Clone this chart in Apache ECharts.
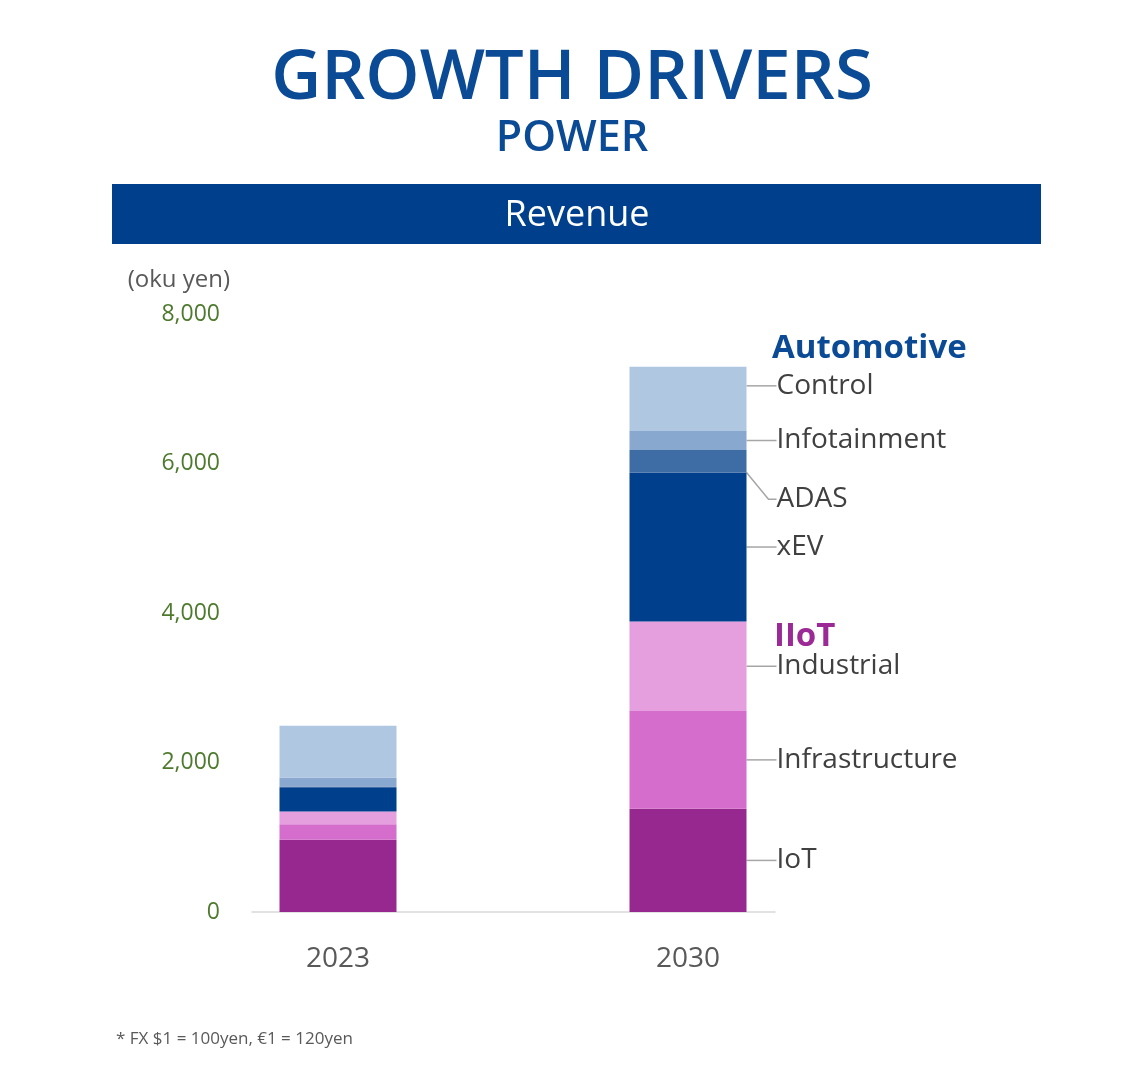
<!DOCTYPE html>
<html>
<head>
<meta charset="utf-8">
<script src="https://cdn.jsdelivr.net/npm/echarts@6/dist/echarts.min.js"></script>
<style>
html,body{margin:0;padding:0;background:#fff;}
#chart{width:1144px;height:1070px;}
</style>
</head>
<body>
<div id="chart"></div>
<script>
// ---- data ----
const categories = ['2023', '2030'];
const segmentNames = ['IoT', 'Infrastructure', 'Industrial', 'xEV', 'ADAS', 'Infotainment', 'Control'];
const iotValues = [965, 1380];
const infrastructureValues = [210, 1310];
const industrialValues = [170, 1195];
const xevValues = [315, 1995];
const adasValues = [20, 300];
const infotainmentValues = [120, 255];
const controlValues = [690, 860];
const yTickValues = [0, 2000, 4000, 6000, 8000];
const groupHeadings = ['Automotive', 'IIoT'];

// ---- styling ----
const FONT = "'Open Sans', 'Noto Sans', sans-serif";
const colors = ['#97288F', '#D46DCB', '#E59EDE', '#003F8C', '#3E6DA6', '#88A8D0', '#B0C7E2'];
const valueLists = [iotValues, infrastructureValues, industrialValues, xevValues, adasValues, infotainmentValues, controlValues];
const labelShift = { 'Control': -13, 'ADAS': 38 };

const chart = echarts.init(document.getElementById('chart'));

const series = segmentNames.map((name, i) => ({
  name: name,
  type: 'bar',
  stack: 'total',
  xAxisIndex: 0,
  yAxisIndex: 0,
  barWidth: 117,
  itemStyle: { color: colors[i] },
  emphasis: { disabled: true },
  labelLine: { show: true, length2: 8, lineStyle: { color: '#A6A6A6', width: 1.5 } },
  labelLayout: { dy: labelShift[name] || 0 },
  data: valueLists[i].map((v, j) => j === categories.length - 1 ? {
    value: v,
    label: {
      show: true, position: 'right', distance: 30,
      formatter: name, color: '#404040', fontSize: 28, fontFamily: FONT
    }
  } : v)
}));

const option = {
  backgroundColor: '#ffffff',
  animation: false,
  title: [
    { text: 'GROWTH DRIVERS', left: 'center', top: 40,
      textStyle: { color: '#0B4A94', fontSize: 69, fontWeight: 600, fontFamily: FONT } },
    { text: 'POWER', left: 'center', top: 112,
      textStyle: { color: '#0B4A94', fontSize: 43, fontWeight: 600, fontFamily: FONT } },
    { text: '* FX $1 = 100yen, €1 = 120yen', left: 111, top: 1026,
      textStyle: { color: '#595959', fontSize: 17, fontWeight: 'normal', fontFamily: FONT } }
  ],
  graphic: [
    { type: 'rect', shape: { x: 112, y: 184, width: 929, height: 60 }, style: { fill: '#003F8C' }, z: 0 },
    { type: 'text', x: 577, y: 216, style: { text: 'Revenue', fill: '#ffffff', fontSize: 36, fontFamily: FONT, align: 'center', verticalAlign: 'middle' } },
    { type: 'text', x: 772, y: 349, style: { text: groupHeadings[0], fill: '#0B4A94', fontSize: 33, fontWeight: 'bold', fontFamily: FONT, align: 'left', verticalAlign: 'middle' } },
    { type: 'text', x: 774, y: 637, style: { text: groupHeadings[1], fill: '#9B2A96', fontSize: 33, fontWeight: 'bold', fontFamily: FONT, align: 'left', verticalAlign: 'middle' } }
  ],
  grid: [
    { left: 163, right: 281, top: 314, bottom: 158 },
    { left: 252, right: 369, top: 314, bottom: 158 }
  ],
  xAxis: [
    { type: 'category', gridIndex: 0, data: categories, boundaryGap: true,
      axisLine: { show: false }, axisTick: { show: false },
      axisLabel: { color: '#595959', fontSize: 28, fontFamily: FONT, margin: 33 } },
    { type: 'value', gridIndex: 1, min: 0, max: 1,
      axisLine: { show: true, lineStyle: { color: '#D9D9D9', width: 1.5 } },
      axisTick: { show: false }, axisLabel: { show: false }, splitLine: { show: false } }
  ],
  yAxis: [
    { type: 'value', gridIndex: 0, min: 0, max: 8000, interval: 2000, show: false, splitLine: { show: false } },
    { type: 'value', gridIndex: 1, min: 0, max: 8000, interval: 2000,
      name: '(oku yen)', nameLocation: 'end', nameGap: 22,
      nameTextStyle: { color: '#595959', fontSize: 24, fontFamily: FONT, align: 'right', padding: [0, 22, 0, 0] },
      axisLine: { show: false }, axisTick: { show: false }, splitLine: { show: false },
      axisLabel: { color: '#4E7A2E', fontSize: 23, fontFamily: FONT, margin: 32,
        customValues: yTickValues,
        formatter: v => v.toLocaleString('en-US') } }
  ],
  series: series
};
chart.setOption(option);
</script>
</body>
</html>
